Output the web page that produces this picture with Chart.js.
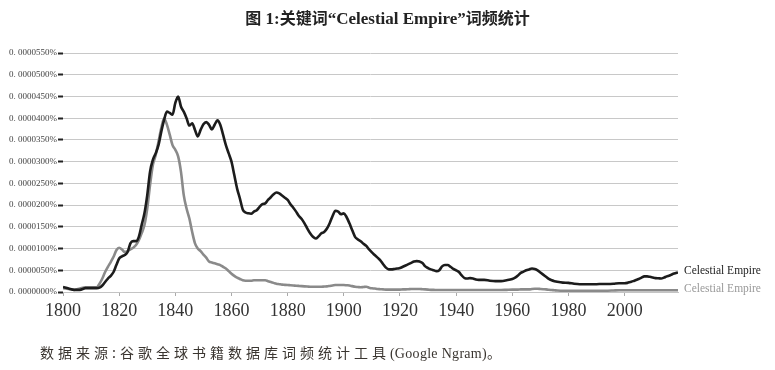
<!DOCTYPE html>
<html lang="en">
<head>
<meta charset="UTF-8">
<title>Celestial Empire Ngram</title>
<script src="https://cdn.jsdelivr.net/npm/chart.js@4.4.0/dist/chart.umd.min.js"></script>
<style>
  html, body { margin: 0; padding: 0; background: #fff; }
  #wrap { position: relative; width: 775px; height: 370px; overflow: hidden; }
  #title {
    position: absolute; left: 0; top: 5px; width: 775px; text-align: center;
    font-family: "Noto Sans CJK SC", sans-serif;
    font-size: 16px; font-weight: bold; color: #222;
  }
  #note {
    position: absolute; left: 40px; top: 342px;
    font-family: "Noto Sans CJK SC", sans-serif;
    font-size: 14px; color: #3a3530; letter-spacing: 4px;
  }
  .lat { font-family: "Liberation Serif", serif; }
  #title .lat { font-size: 17px; }
  #note .lat { font-size: 14px; letter-spacing: 0.3px; }
  #box { position: absolute; left: 0; top: 0; width: 775px; height: 370px; }
</style>
</head>
<body>
<div id="wrap">
  <div id="box"><canvas id="ngram" width="775" height="370"></canvas></div>
  <div id="title">图<span class="lat"> 1:</span>关键词<span class="lat">“Celestial Empire”</span>词频统计</div>
  <div id="note">数据来源:谷歌全球书籍数据库词频统计工具<span class="lat">(Google Ngram)</span>。</div>
</div>
<script>
// values in units of 0.000001 %
const years = [
  1800, 1802, 1804, 1806, 1808, 1810, 1812, 1813, 1814, 1815, 1816, 1817, 1818, 1819,
  1820, 1821, 1822, 1823, 1824, 1825, 1826, 1827, 1828, 1829,
  1830, 1831, 1832, 1833, 1834, 1835, 1836, 1837, 1838, 1839,
  1840, 1841, 1842, 1843, 1844, 1845, 1846, 1847, 1848, 1849,
  1850, 1851, 1852, 1853, 1854, 1855, 1856, 1857, 1858, 1859,
  1860, 1861, 1862, 1863, 1864, 1865, 1866, 1867, 1868, 1869,
  1870, 1871, 1872, 1873, 1874, 1875, 1876, 1877, 1878, 1879,
  1880, 1881, 1882, 1883, 1884, 1885, 1886, 1887, 1888, 1889,
  1890, 1891, 1892, 1893, 1894, 1895, 1896, 1897, 1898, 1899,
  1900, 1901, 1902, 1903, 1904, 1905, 1906, 1907, 1908, 1909,
  1910, 1911, 1912, 1913, 1914, 1915, 1916, 1917, 1918, 1919,
  1920, 1921, 1922, 1923, 1924, 1925, 1926, 1927, 1928, 1929,
  1930, 1931, 1932, 1933, 1934, 1935, 1936, 1937, 1938, 1939,
  1940, 1941, 1942, 1943, 1944, 1945, 1946, 1947, 1948, 1950,
  1952, 1954, 1956, 1958, 1960, 1961, 1962, 1963, 1964, 1965,
  1966, 1967, 1968, 1969, 1970, 1971, 1972, 1973, 1974, 1975,
  1976, 1978, 1980, 1982, 1984, 1986, 1988, 1990, 1992, 1994,
  1996, 1998, 2000, 2001, 2002, 2003, 2004, 2005, 2006, 2007,
  2008, 2009, 2010, 2011, 2012, 2013, 2014, 2015, 2016, 2017,
  2018, 2019
];
const empireUpper = [
  1.15, 0.8, 0.5, 0.5, 0.9, 0.9, 0.9, 1.0, 1.5, 2.3, 3.1, 3.7, 4.6, 6.2,
  7.7, 8.2, 8.5, 9.2, 11.2, 11.7, 11.7, 12.7, 15.4, 18.1,
  22.3, 27.7, 30.4, 31.9, 33.8, 36.9, 39.6, 41.5, 41.2, 40.8,
  43.5, 45.0, 42.7, 41.5, 40.0, 38.3, 38.8, 37.3, 35.8, 37.3,
  38.6, 39.1, 38.5, 37.4, 38.5, 39.5, 38.5, 36.2, 33.8, 31.9,
  30.0, 26.9, 23.8, 21.5, 19.0, 18.3, 18.1, 18.0, 18.5, 18.8,
  19.6, 20.2, 20.4, 21.2, 21.8, 22.5, 22.9, 22.7, 22.2, 21.7,
  21.2, 20.2, 19.4, 18.5, 17.5, 16.8, 15.8, 14.6, 13.5, 12.7,
  12.3, 12.8, 13.5, 13.8, 14.6, 15.9, 17.5, 18.7, 18.5, 17.9,
  18.1, 17.2, 15.8, 14.2, 12.7, 12.1, 11.7, 11.1, 10.6, 9.8,
  9.1, 8.5, 7.9, 7.3, 6.4, 5.6, 5.2, 5.2, 5.3, 5.4,
  5.5, 5.8, 6.1, 6.4, 6.7, 7.0, 7.1, 7.0, 6.7, 5.9,
  5.5, 5.2, 5.0, 4.8, 5.0, 5.9, 6.2, 6.2, 5.8, 5.3,
  5.0, 4.6, 3.8, 3.2, 3.1, 3.2, 3.1, 2.9, 2.8, 2.8,
  2.6, 2.5, 2.5, 2.7, 3.0, 3.3, 3.8, 4.4, 4.7, 5.0,
  5.2, 5.4, 5.3, 5.0, 4.5, 4.0, 3.5, 3.0, 2.7, 2.5,
  2.35, 2.15, 2.1, 1.9, 1.8, 1.8, 1.8, 1.8, 1.85, 1.85,
  1.9, 2.0, 2.0, 2.1, 2.3, 2.5, 2.75, 3.0, 3.3, 3.6,
  3.6, 3.5, 3.35, 3.2, 3.15, 3.1, 3.3, 3.6, 3.8, 4.1,
  4.3, 4.5
];
const empireLower = [
  0.9, 0.7, 0.5, 0.8, 1.1, 1.1, 1.1, 1.9, 3.1, 4.6, 5.8, 6.9, 8.1, 9.6,
  10.2, 9.8, 9.2, 9.4, 9.8, 10.2, 10.8, 11.9, 13.5, 15.4,
  19.2, 24.6, 29.2, 31.5, 34.6, 37.7, 40.0, 38.5, 36.2, 33.8,
  32.7, 31.2, 27.7, 22.3, 19.2, 16.9, 13.8, 11.2, 10.0, 9.4,
  8.6, 7.9, 7.0, 6.8, 6.6, 6.4, 6.2, 5.8, 5.4, 4.8,
  4.2, 3.7, 3.3, 3.0, 2.7, 2.6, 2.6, 2.6, 2.7, 2.7,
  2.7, 2.7, 2.7, 2.5, 2.3, 2.1, 1.9, 1.8, 1.7, 1.65,
  1.6, 1.55, 1.5, 1.45, 1.4, 1.35, 1.3, 1.25, 1.2, 1.2,
  1.2, 1.2, 1.2, 1.25, 1.3, 1.4, 1.5, 1.6, 1.6, 1.6,
  1.6, 1.55, 1.5, 1.35, 1.2, 1.15, 1.1, 1.15, 1.2, 1.0,
  0.85, 0.8, 0.7, 0.65, 0.6, 0.55, 0.55, 0.55, 0.55, 0.55,
  0.55, 0.6, 0.6, 0.65, 0.7, 0.7, 0.7, 0.7, 0.65, 0.6,
  0.55, 0.5, 0.5, 0.45, 0.45, 0.45, 0.45, 0.45, 0.45, 0.45,
  0.45, 0.45, 0.45, 0.45, 0.45, 0.45, 0.45, 0.45, 0.45, 0.45,
  0.45, 0.45, 0.45, 0.5, 0.55, 0.55, 0.55, 0.6, 0.6, 0.6,
  0.6, 0.7, 0.75, 0.75, 0.7, 0.65, 0.6, 0.5, 0.45, 0.4,
  0.35, 0.3, 0.3, 0.25, 0.25, 0.25, 0.25, 0.3, 0.3, 0.3,
  0.35, 0.4, 0.4, 0.4, 0.4, 0.4, 0.4, 0.4, 0.4, 0.4,
  0.4, 0.4, 0.4, 0.4, 0.4, 0.4, 0.4, 0.4, 0.4, 0.4,
  0.4, 0.4
];
const yTicks = [0, 5, 10, 15, 20, 25, 30, 35, 40, 45, 50, 55];
const xTicks = [1800, 1820, 1840, 1860, 1880, 1900, 1920, 1940, 1960, 1980, 2000];
const seriesName = 'Celestial Empire';

const pts = arr => arr.map((v, i) => ({ x: years[i], y: v }));

// names at the right end of each line
const endLabels = {
  id: 'endLabels',
  afterDatasetsDraw(chart) {
    const c = chart.ctx;
    const x = chart.chartArea.right + 6;
    const yb = chart.scales.y.getPixelForValue(empireUpper[empireUpper.length - 1]);
    const yg = chart.scales.y.getPixelForValue(empireLower[empireLower.length - 1]);
    c.save();
    c.font = '11.5px "Liberation Serif", serif';
    c.textBaseline = 'middle';
    c.fillStyle = '#222';
    c.fillText(seriesName, x, yb - 1);
    c.fillStyle = '#999';
    c.fillText(seriesName, x, Math.max(yg - 3, yb + 17));
    c.restore();
  }
};

new Chart(document.getElementById('ngram'), {
  type: 'line',
  data: {
    datasets: [
      { label: seriesName, data: pts(empireUpper), borderColor: '#1c1c1c', borderWidth: 2.6 },
      { label: seriesName, data: pts(empireLower), borderColor: '#8a8a8a', borderWidth: 2.6 }
    ]
  },
  options: {
    responsive: false,
    animation: false,
    layout: { padding: { left: 0, right: 97, top: 53, bottom: 48 } },
    elements: { point: { radius: 0 }, line: { cubicInterpolationMode: 'monotone', fill: false } },
    plugins: { legend: { display: false }, tooltip: { enabled: false } },
    scales: {
      x: {
        type: 'linear', min: 1800, max: 2019,
        afterBuildTicks: s => { s.ticks = xTicks.map(v => ({ value: v })); },
        afterFit: s => { s.height = 30; },
        border: { display: true, color: '#c4c4c4', width: 1 },
        grid: { drawOnChartArea: false, drawTicks: true, tickLength: 4, tickColor: '#aaa' },
        ticks: {
          autoSkip: false, maxRotation: 0, padding: 4, color: '#333',
          font: { family: '"Liberation Serif", serif', size: 18 },
          callback: v => String(v)
        }
      },
      y: {
        min: 0, max: 55,
        afterBuildTicks: s => { s.ticks = yTicks.map(v => ({ value: v })); },
        afterFit: s => { s.width = 63; },
        border: { display: false },
        grid: { color: '#c8c8c8', lineWidth: 1, tickLength: 5, tickColor: '#222', tickWidth: 2 },
        ticks: {
          autoSkip: false, padding: 1, color: '#444',
          font: { family: '"Liberation Serif", serif', size: 9 },
          callback: v => '0. ' + (v * 1e-6).toFixed(7).slice(2) + '%'
        }
      }
    }
  },
  plugins: [endLabels]
});
</script>
</body>
</html>
